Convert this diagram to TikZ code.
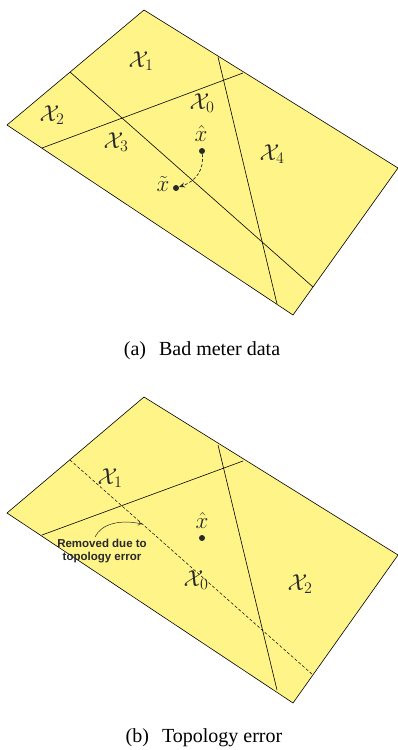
\documentclass[tikz,border=0pt]{standalone}
\usepackage{fix-cm}
\usepackage{fontspec}
\setmainfont{Liberation Serif}
\newfontfamily\notefont{Liberation Sans}
\usetikzlibrary{arrows.meta}
\definecolor{pane}{RGB}{255,244,135}
\definecolor{ink}{RGB}{40,40,40}
\begin{document}
\begin{tikzpicture}[x=1pt,y=-1pt,
  pane/.style={fill=pane,draw=black,line width=0.6pt},
  cut/.style={draw=black,line width=0.6pt},
  removed/.style={draw=black,line width=0.5pt,dash pattern=on 3pt off 2pt},
  reg/.style={font=\fontsize{23}{27}\selectfont,text=ink,inner sep=0pt},
  dot/.style={circle,fill=ink,inner sep=0pt,minimum size=6pt},
  capt/.style={font=\fontsize{20}{24}\selectfont,inner sep=0pt},
  note/.style={font=\notefont\bfseries\fontsize{11.5}{12.5}\selectfont,text=ink,align=center,inner sep=0pt}]
\useasboundingbox (0,0) rectangle (398,750);
% ---------- (a) ----------
\coordinate (aT) at (144,10);
\coordinate (aR) at (398,168);
\coordinate (aB) at (293,315);
\coordinate (aL) at (7,125);
\path[pane] (aT) -- (aR) -- (aB) -- (aL) -- cycle;
\coordinate (a1s) at (70,72);  \coordinate (a1e) at (313,287);
\coordinate (a2s) at (42,148); \coordinate (a2e) at (243,73);
\coordinate (a3s) at (218,57); \coordinate (a3e) at (277,304);
\draw[cut] (a1s) -- (a1e);
\draw[cut] (a2s) -- (a2e);
\draw[cut] (a3s) -- (a3e);
\node[reg] (aX1) at (141,61) {$\mathcal{X}_1$};
\node[reg] (aX2) at (52,115) {$\mathcal{X}_2$};
\node[reg] (aX0) at (202,103) {$\mathcal{X}_0$};
\node[reg] (aX3) at (116,142) {$\mathcal{X}_3$};
\node[reg] (aX4) at (272,154) {$\mathcal{X}_4$};
\node[dot] (axh) at (202,151) {};
\node[reg] (axhl) at (201,134) {$\hat{x}$};
\node[dot] (axt) at (176,188) {};
\node[reg] (axtl) at (163,184) {$\tilde{x}$};
\draw[ink,line width=0.7pt,dash pattern=on 3pt off 2pt,-{Stealth[length=6pt,width=5pt]}]
  (axh) .. controls (204,170) and (196,181) .. (axt);
\node[capt] (capa) at (202,351) {(a)\hspace{0.4em} Bad meter data};
% ---------- (b) ----------
\begin{scope}[shift={(0,387)}]
\coordinate (bT) at (144,10);
\coordinate (bR) at (398,168);
\coordinate (bB) at (293,316);
\coordinate (bL) at (7,126);
\path[pane] (bT) -- (bR) -- (bB) -- (bL) -- cycle;
\coordinate (b1s) at (70,73);  \coordinate (b1e) at (313,288);
\coordinate (b2s) at (42,148); \coordinate (b2e) at (243,74);
\coordinate (b3s) at (218,58); \coordinate (b3e) at (277,303);
\draw[removed] (b1s) -- (b1e);
\draw[cut] (b2s) -- (b2e);
\draw[cut] (b3s) -- (b3e);
\node[reg] (bX1) at (110,91) {$\mathcal{X}_1$};
\node[reg] (bX0) at (196,193) {$\mathcal{X}_0$};
\node[reg] (bX2) at (300,197) {$\mathcal{X}_2$};
\node[dot] (bxh) at (202,151) {};
\node[reg] (bxhl) at (202,134) {$\hat{x}$};
\node[note] (rm) at (102,164) {Removed due to\\topology error};
\coordinate (rmend) at (142,137);
\draw[ink,line width=0.5pt,-{To[length=4pt,width=5pt]}]
  (95,150) .. controls (101,137) and (120,132) .. (rmend);
\end{scope}
\node[capt] (capb) at (204,738) {(b)\hspace{0.4em} Topology error};
\end{tikzpicture}
\end{document}
